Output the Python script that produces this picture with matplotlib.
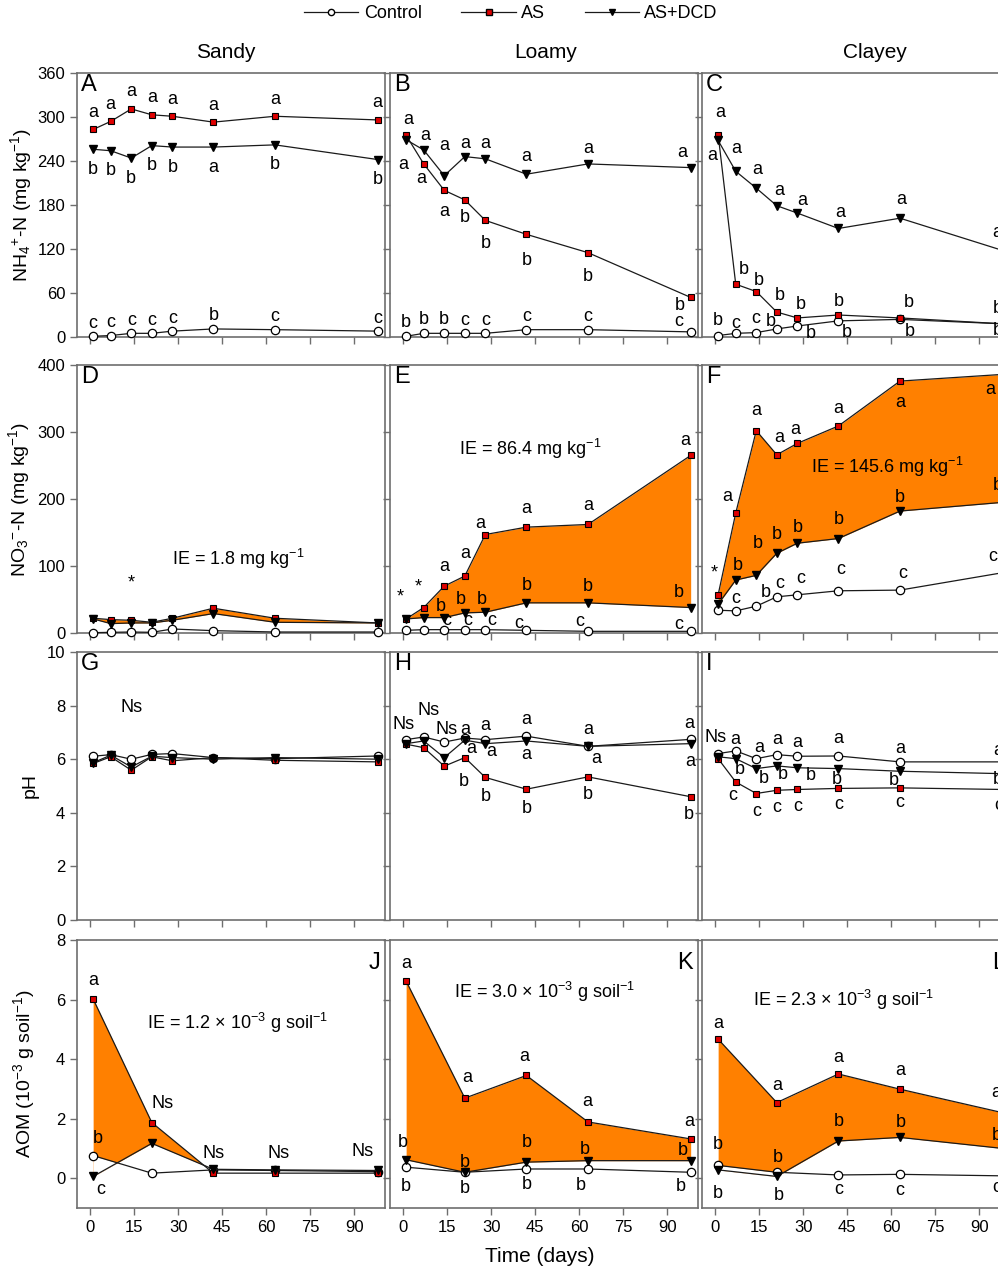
import numpy as np
import matplotlib.pyplot as plt
from matplotlib.lines import Line2D

plt.rcParams['font.family'] = ['Liberation Sans', 'DejaVu Sans']
plt.rcParams['mathtext.fontset'] = 'custom'
plt.rcParams['mathtext.rm'] = 'Liberation Sans'
plt.rcParams['mathtext.it'] = 'Liberation Sans:italic'

# ---------------- data ----------------
days = [1, 7, 14, 21, 28, 42, 63, 98]
aom_days = [1, 21, 42, 63, 98]
soils = ['Sandy', 'Loamy', 'Clayey']

# NH4+-N (mg/kg)
nh4_sandy_ctrl = [1, 2, 5, 5, 8, 11, 10, 8]
nh4_sandy_as = [283, 294, 311, 303, 301, 293, 301, 296]
nh4_sandy_dcd = [256, 254, 244, 261, 259, 259, 262, 242]
nh4_loamy_ctrl = [1, 5, 5, 5, 5, 10, 10, 7]
nh4_loamy_as = [275, 236, 200, 187, 159, 140, 115, 54]
nh4_loamy_dcd = [269, 255, 220, 246, 243, 222, 236, 231]
nh4_clayey_ctrl = [2, 5, 6, 11, 15, 22, 24, 18]
nh4_clayey_as = [276, 72, 62, 34, 26, 30, 26, 18]
nh4_clayey_dcd = [268, 226, 203, 179, 169, 148, 162, 118]

# NO3--N (mg/kg)
no3_sandy_ctrl = [0.5, 1, 1.5, 1, 6, 3.5, 1.5, 1.5]
no3_sandy_as = [22, 20, 19, 16, 22, 37, 22, 15]
no3_sandy_dcd = [21, 14, 15, 15, 19, 29, 16, 15]
no3_loamy_ctrl = [4, 5, 5, 5, 5, 4, 2.5, 2.5]
no3_loamy_as = [21, 38, 70, 85, 147, 158, 162, 265]
no3_loamy_dcd = [21, 23, 23, 30, 31, 45, 45, 38]
no3_clayey_ctrl = [34, 33, 40, 54, 57, 63, 64, 90]
no3_clayey_as = [57, 179, 302, 266, 283, 309, 376, 386]
no3_clayey_dcd = [43, 79, 86, 119, 134, 141, 182, 195]

# pH
ph_sandy_ctrl = [6.11, 6.17, 6.00, 6.18, 6.21, 6.06, 6.02, 6.12]
ph_sandy_as = [5.84, 6.09, 5.59, 6.09, 5.94, 6.06, 5.96, 5.90]
ph_sandy_dcd = [5.87, 6.15, 5.71, 6.11, 6.06, 6.00, 6.06, 6.00]
ph_loamy_ctrl = [6.73, 6.83, 6.64, 6.79, 6.73, 6.86, 6.48, 6.74]
ph_loamy_as = [6.56, 6.43, 5.74, 6.06, 5.32, 4.88, 5.34, 4.60]
ph_loamy_dcd = [6.58, 6.68, 6.06, 6.71, 6.58, 6.68, 6.48, 6.58]
ph_clayey_ctrl = [6.21, 6.31, 6.02, 6.17, 6.11, 6.12, 5.90, 5.90]
ph_clayey_as = [6.02, 5.15, 4.72, 4.84, 4.87, 4.91, 4.93, 4.87]
ph_clayey_dcd = [6.09, 6.02, 5.65, 5.75, 5.68, 5.65, 5.55, 5.46]

# AOM (10^-3 g/soil)
aom_sandy_ctrl = [0.76, 0.17, 0.28, 0.26, 0.22]
aom_sandy_as = [6.02, 1.87, 0.17, 0.17, 0.17]
aom_sandy_dcd = [0.06, 1.17, 0.30, 0.28, 0.26]
aom_loamy_ctrl = [0.37, 0.20, 0.31, 0.31, 0.20]
aom_loamy_as = [6.62, 2.69, 3.45, 1.89, 1.32]
aom_loamy_dcd = [0.62, 0.20, 0.54, 0.59, 0.59]
aom_clayey_ctrl = [0.43, 0.20, 0.11, 0.13, 0.08]
aom_clayey_as = [4.67, 2.54, 3.50, 2.99, 2.20]
aom_clayey_dcd = [0.28, 0.06, 1.25, 1.37, 1.00]

# significance letters ('' = none)
sig_a_ctrl = ['c', 'c', 'c', 'c', 'c', 'b', 'c', 'c']
sig_a_as = ['a'] * 8
sig_a_dcd = ['b', 'b', 'b', 'b', 'b', 'a', 'b', 'b']
sig_b_ctrl = ['b', 'b', 'b', 'c', 'c', 'c', 'c', 'c']
sig_b_as = ['a', 'a', 'a', 'b', 'b', 'b', 'b', 'b']
sig_b_dcd = ['a'] * 8
sig_c_ctrl = ['b', 'c', 'c', 'b', 'b', 'b', 'b', 'b']
sig_c_as = ['a', 'b', 'b', 'b', 'b', 'b', 'b', 'b']
sig_c_dcd = ['a'] * 8
sig_d_as = ['', '', '*', '', '', '', '', '']
sig_e_ctrl = ['', '', 'c', 'c', 'c', 'c', 'c', 'c']
sig_e_as = ['*', '*', 'a', 'a', 'a', 'a', 'a', 'a']
sig_e_dcd = ['', '', 'b', 'b', 'b', 'b', 'b', 'b']
sig_f_ctrl = ['', 'c', 'b', 'c', 'c', 'c', 'c', 'c']
sig_f_as = ['*', 'a', 'a', 'a', 'a', 'a', 'a', 'a']
sig_f_dcd = ['', 'b', 'b', 'b', 'b', 'b', 'b', 'b']
sig_g_ctrl = ['', '', 'Ns', '', '', '', '', '']
sig_h_ctrl = ['Ns', 'Ns', 'Ns', 'a', 'a', 'a', 'a', 'a']
sig_h_as = ['', '', '', 'b', 'b', 'b', 'b', 'b']
sig_h_dcd = ['', '', '', 'a', 'a', 'a', 'a', 'a']
sig_i_ctrl = ['Ns', 'a', 'a', 'a', 'a', 'a', 'a', 'a']
sig_i_as = ['', 'c', 'c', 'c', 'c', 'c', 'c', 'c']
sig_i_dcd = ['', 'b', 'b', 'b', 'b', 'b', 'b', 'b']
sig_j_ctrl = ['b', '', '', '', '']
sig_j_as = ['a', 'Ns', 'Ns', 'Ns', 'Ns']
sig_j_dcd = ['c', '', '', '', '']
sig_k_ctrl = ['b'] * 5
sig_k_as = ['a'] * 5
sig_k_dcd = ['b'] * 5
sig_l_ctrl = ['b', 'b', 'c', 'c', 'c']
sig_l_as = ['a'] * 5
sig_l_dcd = ['b'] * 5

ie_text = {
    'D': 'IE = 1.8 mg kg$^{\u22121}$',
    'E': 'IE = 86.4 mg kg$^{\u22121}$',
    'F': 'IE = 145.6 mg kg$^{\u22121}$',
    'J': 'IE = 1.2 \u00d7 10$^{\u22123}$ g soil$^{\u22121}$',
    'K': 'IE = 3.0 \u00d7 10$^{\u22123}$ g soil$^{\u22121}$',
    'L': 'IE = 2.3 \u00d7 10$^{\u22123}$ g soil$^{\u22121}$',
}

# ---------------- layout ----------------
W, H = 998, 1272
col_left = [77, 390, 702]
col_w = 308
row_top = [73, 365, 652, 940]
row_bot = [337, 633, 920, 1208]

ylims = [(0, 360), (0, 400), (0, 10), (-1, 8)]
yticks = [np.arange(0, 361, 60), np.arange(0, 401, 100), np.arange(0, 11, 2), np.arange(0, 9, 2)]
ylabels = ['NH$_4$$^{+}$-N (mg kg$^{\u22121}$)', 'NO$_3$$^{\u2212}$-N (mg kg$^{\u22121}$)',
           'pH', 'AOM (10$^{\u22123}$ g soil$^{\u22121}$)']
ylabel_x = [-0.14, -0.145, -0.125, -0.13]
tags = [['A', 'B', 'C'], ['D', 'E', 'F'], ['G', 'H', 'I'], ['J', 'K', 'L']]

# letter offsets in pixels: (dx, dy) per point
OFF = {
    ('A', 'as'): (0, 17), ('A', 'dcd'): (0, -20), ('A', 'ctrl'): (0, 13),
    ('B', 'as'): ([-3, -2, 0, 0, 0, 0, 0, -11], [-29, -15, -21, -18, -23, -26, -24, -8]),
    ('B', 'dcd'): ([2, 2, 0, 0, 0, 0, 0, -8], [20, 15, 30, 13, 15, 18, 15, 15]),
    ('B', 'ctrl'): ([0, 0, 0, 0, 0, 0, 0, -12], [14, 14, 14, 13, 13, 13, 13, 10]),
    ('C', 'as'): ([2, 8, 3, 3, 3, 0, 9, -5], [22, 15, 11, 17, 13, 14, 15, 15]),
    ('C', 'dcd'): ([-6, 1, 1, 2, 5, 2, 1, -5], [-15, 23, 19, 15, 13, 16, 19, 18]),
    ('C', 'ctrl'): ([0, 0, -1, -6, 13, 8, 10, -5], [15, 10, 14, 7, -7, -12, -12, -7]),
    ('D', 'as'): (0, 37),
    ('E', 'as'): ([-6, -5, 0, 0, -5, 0, 0, -5], [22, 21, 20, 23, 11, 19, 19, 15]),
    ('E', 'dcd'): ([0, 0, -3, -4, -4, 0, 0, -12], [0, 0, 11, 13, 13, 17, 16, 15]),
    ('E', 'ctrl'): ([0, 0, 2, 3, 6, -8, -8, -12], [0, 0, 9, 9, 9, 7, 10, 7]),
    ('F', 'as'): ([-4, -8, 0, 2, -2, 0, 0, -12], [22, 17, 20, 17, 14, 17, -21, -15]),
    ('F', 'dcd'): ([0, 2, 2, 0, 0, 0, 0, -5], [0, 15, 32, 19, 16, 19, 14, 17]),
    ('F', 'ctrl'): ([0, 0, 10, 3, 3, 2, 3, -10], [0, 12, 14, 13, 16, 21, 17, 16]),
    ('G', 'ctrl'): (0, 52),
    ('H', 'ctrl'): ([-3, 5, 2, 0, 0, 0, 0, -1], [15, 26, 13, 9, 14, 17, 17, 16]),
    ('H', 'dcd'): ([0, 0, 0, 6, 6, 0, 8, 0], [0, 0, 0, -8, -8, -14, -12, -18]),
    ('H', 'as'): ([0, 0, 0, -1, 0, 0, 0, -2], [0, 0, 0, -24, -19, -19, -18, -18]),
    ('I', 'ctrl'): ([-3, 0, 3, 0, 0, 0, 0, -4], [16, 11, 11, 15, 14, 17, 13, 11]),
    ('I', 'dcd'): ([0, 4, 8, 6, 13, -2, -6, -5], [0, -11, -10, -9, -8, -11, -9, -6]),
    ('I', 'as'): ([0, -3, 0, 0, 0, 0, 0, -4], [0, -14, -18, -17, -17, -16, -15, -16]),
    ('J', 'as'): ([0, 11, 0, 4, -15], [18, 19, 20, 20, 22]),
    ('J', 'ctrl'): (5, 17), ('J', 'dcd'): (8, -13),
    ('K', 'as'): ([0, 2, -2, -1, -1], [18, 21, 19, 20, 17]),
    ('K', 'dcd'): ([-3, 0, 0, -3, -8], [17, 10, 20, 11, 10]),
    ('K', 'ctrl'): ([0, 0, 0, -7, -10], [-19, -16, -16, -17, -14]),
    ('L', 'as'): ([0, 0, 0, 0, -6], [16, 17, 16, 19, 20]),
    ('L', 'dcd'): ([0, 1, 0, 1, -6], [25, 19, 19, 15, 13]),
    ('L', 'ctrl'): ([0, 2, 0, 0, -6], [-28, -23, -15, -16, -12]),
}

ie_pos = {'D': (0.523, 0.278), 'E': (0.455, 0.685), 'F': (0.60, 0.618),
          'J': (0.52, 0.689), 'K': (0.503, 0.808), 'L': (0.458, 0.777)}

ORANGE = '#ff8000'
FRAME = '#6e6e6e'

data = {
    0: [(nh4_sandy_ctrl, nh4_sandy_as, nh4_sandy_dcd), (nh4_loamy_ctrl, nh4_loamy_as, nh4_loamy_dcd),
        (nh4_clayey_ctrl, nh4_clayey_as, nh4_clayey_dcd)],
    1: [(no3_sandy_ctrl, no3_sandy_as, no3_sandy_dcd), (no3_loamy_ctrl, no3_loamy_as, no3_loamy_dcd),
        (no3_clayey_ctrl, no3_clayey_as, no3_clayey_dcd)],
    2: [(ph_sandy_ctrl, ph_sandy_as, ph_sandy_dcd), (ph_loamy_ctrl, ph_loamy_as, ph_loamy_dcd),
        (ph_clayey_ctrl, ph_clayey_as, ph_clayey_dcd)],
    3: [(aom_sandy_ctrl, aom_sandy_as, aom_sandy_dcd), (aom_loamy_ctrl, aom_loamy_as, aom_loamy_dcd),
        (aom_clayey_ctrl, aom_clayey_as, aom_clayey_dcd)],
}
sigs = {
    'A': (sig_a_ctrl, sig_a_as, sig_a_dcd), 'B': (sig_b_ctrl, sig_b_as, sig_b_dcd),
    'C': (sig_c_ctrl, sig_c_as, sig_c_dcd), 'D': (None, sig_d_as, None),
    'E': (sig_e_ctrl, sig_e_as, sig_e_dcd), 'F': (sig_f_ctrl, sig_f_as, sig_f_dcd),
    'G': (sig_g_ctrl, None, None), 'H': (sig_h_ctrl, sig_h_as, sig_h_dcd),
    'I': (sig_i_ctrl, sig_i_as, sig_i_dcd), 'J': (sig_j_ctrl, sig_j_as, sig_j_dcd),
    'K': (sig_k_ctrl, sig_k_as, sig_k_dcd), 'L': (sig_l_ctrl, sig_l_as, sig_l_dcd),
}

style_ctrl = dict(color='#1a1a1a', lw=0.9, marker='o', ms=6, mfc='white', mec='black', mew=0.9)
style_as = dict(color='#1a1a1a', lw=0.9, marker='s', ms=5, mfc='#e00000', mec='black', mew=0.8)
style_dcd = dict(color='#1a1a1a', lw=0.9, marker='v', ms=5.5, mfc='black', mec='black')


def offsets(key, n):
    dx, dy = OFF.get(key, (0, 0))
    dx = np.broadcast_to(dx, (n,))
    dy = np.broadcast_to(dy, (n,))
    return dx, dy


fig = plt.figure(figsize=(W / 100, H / 100), dpi=100)

for r in range(4):
    for c in range(3):
        ax = fig.add_axes([col_left[c] / W, 1 - row_bot[r] / H,
                           col_w / W, (row_bot[r] - row_top[r]) / H])
        x = np.array(aom_days if r == 3 else days)
        ctrl, as_, dcd = (np.array(v, dtype=float) for v in data[r][c])
        tag = tags[r][c]

        if r in (1, 3):
            ax.fill_between(x, as_, dcd, where=as_ >= dcd, interpolate=True,
                            color=ORANGE, lw=0, zorder=1)
            ax.fill_between(x, dcd, ctrl, where=ctrl > dcd, interpolate=True,
                            color='white', lw=0, zorder=1.5)

        ax.plot(x, ctrl, zorder=3, clip_on=False, **style_ctrl)
        ax.plot(x, as_, zorder=4, clip_on=False, **style_as)
        ax.plot(x, dcd, zorder=5, clip_on=False, **style_dcd)

        # significance letters
        for key, vals, labs in zip(('ctrl', 'as', 'dcd'), (ctrl, as_, dcd), sigs[tag]):
            if labs is None:
                continue
            dx, dy = offsets((tag, key), len(x))
            for xi, yi, lab, ox, oy in zip(x, vals, labs, dx, dy):
                if lab:
                    ax.annotate(lab, (xi, yi), xytext=(ox, oy), textcoords='offset pixels',
                                ha='center', va='center', fontsize=13, zorder=6,
                                annotation_clip=False)

        if tag in ie_text:
            ax.text(*ie_pos[tag], ie_text[tag], transform=ax.transAxes,
                    ha='center', va='center', fontsize=13, zorder=6)

        if r == 3:
            ax.text(0.984, 0.955, tag, transform=ax.transAxes, ha='right', va='top', fontsize=17)
        else:
            ax.text(0.012, 0.995, tag, transform=ax.transAxes, ha='left', va='top', fontsize=17)

        ax.set_xlim(-4.5, 100.5)
        ax.set_ylim(*ylims[r])
        ax.set_xticks(np.arange(0, 91, 15))
        ax.set_yticks(yticks[r])
        ax.tick_params(direction='out', length=5, width=1, color=FRAME, labelsize=12)
        for sp in ax.spines.values():
            sp.set_color(FRAME)
            sp.set_linewidth(1.2)
        if r != 3:
            ax.set_xticklabels([])
        if c != 0:
            ax.set_yticklabels([])
        else:
            ax.set_ylabel(ylabels[r], fontsize=14)
            ax.yaxis.set_label_coords(ylabel_x[r], 0.5)

# column titles
for xpix, name in zip([226, 546, 875], soils):
    fig.text(xpix / W, 1 - 52 / H, name, ha='center', va='center', fontsize=15)

fig.text(540 / W, 1 - 1257 / H, 'Time (days)', ha='center', va='center', fontsize=15)

handles = [
    Line2D([], [], color='#1a1a1a', lw=0.9, marker='o', ms=4.5, mfc='white', mec='black'),
    Line2D([], [], color='#1a1a1a', lw=0.9, marker='s', ms=4, mfc='#e00000', mec='black'),
    Line2D([], [], color='#1a1a1a', lw=0.9, marker='v', ms=4.5, mfc='black', mec='black'),
]
fig.legend(handles, ['Control', 'AS', 'AS+DCD'], loc='center', bbox_to_anchor=(0.512, 1 - 14 / H),
           ncol=3, frameon=False, fontsize=13, handlelength=3.0, handletextpad=0.3,
           columnspacing=2.2)

fig.savefig('out.png', dpi=100)
